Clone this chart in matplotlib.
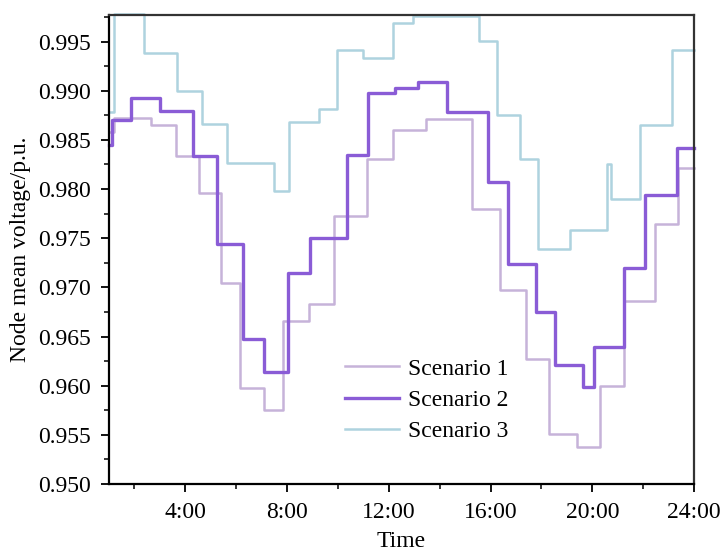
import matplotlib
matplotlib.use("Agg")
import matplotlib.pyplot as plt
from matplotlib.ticker import MultipleLocator, FixedLocator

plt.rcParams['font.family'] = ['Liberation Serif', 'DejaVu Serif']

# Step breakpoints (hours) and values (p.u.) for each scenario
s1_t = [1.0, 1.2, 2.64, 3.62, 4.55, 5.39, 6.15, 7.11, 7.86, 8.88, 9.86, 11.13,
        12.18, 13.47, 15.27, 16.38, 17.38, 18.28, 19.39, 20.30, 21.26, 22.46, 23.39, 24.0]
s1_v = [0.9858, 0.9872, 0.98653, 0.98340, 0.97959, 0.97048, 0.95972, 0.95755, 0.96656,
        0.96827, 0.97728, 0.98306, 0.98600, 0.98715, 0.97801, 0.96976, 0.96276, 0.95513,
        0.95374, 0.95998, 0.96864, 0.97642, 0.98216, 0.98216]

s2_t = [1.0, 1.12, 1.88, 3.02, 4.32, 5.23, 6.28, 7.10, 8.05, 8.90, 10.35, 11.20, 12.25,
        13.13, 14.27, 15.91, 16.67, 17.78, 18.55, 19.65, 20.05, 21.26, 22.09, 23.33, 24.0]
s2_v = [0.98449, 0.98707, 0.98926, 0.98796, 0.98340, 0.97439, 0.96477, 0.96143, 0.97150,
        0.97507, 0.98347, 0.98976, 0.99030, 0.99088, 0.98785, 0.98067, 0.97239, 0.96750,
        0.96206, 0.95991, 0.96397, 0.97200, 0.97940, 0.98414, 0.98414]

s3_t = [1.0, 1.2, 2.39, 3.69, 4.65, 5.63, 7.49, 8.09, 9.26, 9.98, 11.00, 12.18, 12.97,
        15.54, 16.25, 17.14, 17.85, 19.12, 20.56, 20.75, 21.88, 23.12, 24.0]
s3_v = [0.98786, 0.99780, 0.99388, 0.98993, 0.98660, 0.98262, 0.97983, 0.98681, 0.98816,
        0.99411, 0.99334, 0.99692, 0.99760, 0.99506, 0.98754, 0.98310, 0.97394, 0.97583,
        0.98251, 0.97895, 0.98650, 0.99419, 0.99419]

labels = ["Scenario 1", "Scenario 2", "Scenario 3"]
colors = ["#c6b3d9", "#8a5cd6", "#aed3df"]
widths = [1.8, 2.4, 1.8]

xticks = [4, 8, 12, 16, 20, 24]
xticklabels = ["4:00", "8:00", "12:00", "16:00", "20:00", "24:00"]

fig = plt.figure(figsize=(7.26, 5.56), dpi=100)
ax = fig.add_axes([109/726, 1-484/556, (694-109)/726, (484-15)/556])

for t, v, lab, c, w in zip([s1_t, s2_t, s3_t], [s1_v, s2_v, s3_v], labels, colors, widths):
    ax.plot(t, v, drawstyle='steps-post', color=c, lw=w, label=lab, clip_on=False)

ax.set_xlim(1, 24)
ax.set_ylim(0.95, 0.9977)
ax.xaxis.set_major_locator(FixedLocator(xticks))
ax.set_xticklabels(xticklabels)
ax.xaxis.set_minor_locator(FixedLocator([2, 6, 10, 14, 18, 22]))
ax.yaxis.set_major_locator(MultipleLocator(0.005))
ax.yaxis.set_minor_locator(MultipleLocator(0.0025))
ax.yaxis.set_major_formatter(matplotlib.ticker.FormatStrFormatter('%.3f'))

ax.tick_params(which='major', direction='out', length=6, width=1.3, labelsize=17, pad=7)
ax.tick_params(which='minor', direction='out', length=3.5, width=1.1)
ax.tick_params(axis='x', which='major', pad=7)
for s in ax.spines.values():
    s.set_linewidth(1.6)
    s.set_zorder(3)
ax.spines['top'].set_color('#333333')
ax.spines['right'].set_color('#333333')

ax.set_xlabel("Time", fontsize=17, labelpad=6)
ax.set_ylabel("Node mean voltage/p.u.", fontsize=17, labelpad=5)

leg = ax.legend(loc='upper left', bbox_to_anchor=(345/726, 1-358/556),
                bbox_transform=fig.transFigure, frameon=False, fontsize=17,
                handlelength=2.3, handletextpad=0.35, labelspacing=0.42, borderpad=0,
                borderaxespad=0)

fig.savefig("out.png", dpi=100)
